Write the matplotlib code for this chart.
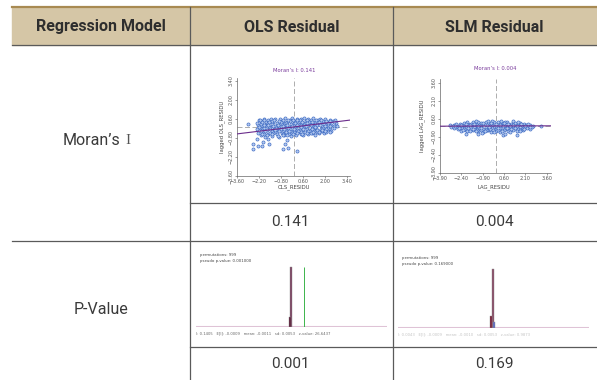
import matplotlib.pyplot as plt
from matplotlib.patches import Rectangle
import numpy as np

W, H = 597, 380

# table content
header = ["Regression Model", "OLS Residual", "SLM Residual"]
row_labels = ["Moran’s", "P-Value"]
moran_vals = ["0.141", "0.004"]
p_vals = ["0.001", "0.169"]

# Moran scatter (residual vs lagged residual)
ols_I = 0.141
slm_I = 0.004
ols_pts = [
    (-2.2, 0.55), (-2.05, 0.42), (-1.9, 0.6), (-1.75, 0.35), (-1.6, 0.52), (-1.45, 0.62), (-1.3, 0.4),
    (-1.15, 0.58), (-1.0, 0.33), (-0.85, 0.61), (-0.7, 0.47), (-0.55, 0.64), (-0.4, 0.38), (-0.25, 0.55),
    (-0.1, 0.63), (0.05, 0.44), (0.2, 0.6), (0.35, 0.36), (0.5, 0.57), (0.65, 0.65), (0.8, 0.42),
    (0.95, 0.59), (1.1, 0.5), (1.25, 0.63), (1.4, 0.37), (1.55, 0.55), (1.7, 0.61), (1.85, 0.45),
    (2.0, 0.58), (2.15, 0.4), (2.3, 0.52), (2.5, 0.47), (2.65, 0.55),
    (-2.25, 0.12), (-2.1, 0.25), (-1.95, 0.05), (-1.8, 0.18), (-1.65, 0.28), (-1.5, 0.02), (-1.35, 0.2),
    (-1.2, 0.1), (-1.05, 0.27), (-0.9, 0.06), (-0.75, 0.22), (-0.6, 0.14), (-0.45, 0.29), (-0.3, 0.03),
    (-0.15, 0.19), (0.0, 0.26), (0.15, 0.08), (0.3, 0.21), (0.45, 0.12), (0.6, 0.28), (0.75, 0.04),
    (0.9, 0.17), (1.05, 0.25), (1.2, 0.09), (1.35, 0.22), (1.5, 0.13), (1.65, 0.27), (1.8, 0.06),
    (1.95, 0.2), (2.1, 0.11), (2.25, 0.26), (2.4, 0.15), (2.6, 0.08),
    (-2.3, -0.15), (-2.15, -0.05), (-2.0, -0.25), (-1.85, -0.1), (-1.7, -0.2), (-1.55, -0.02),
    (-1.4, -0.28), (-1.25, -0.12), (-1.1, -0.22), (-0.95, -0.04), (-0.8, -0.18), (-0.65, -0.27),
    (-0.5, -0.08), (-0.35, -0.21), (-0.2, -0.13), (-0.05, -0.29), (0.1, -0.06), (0.25, -0.19),
    (0.4, -0.11), (0.55, -0.25), (0.7, -0.03), (0.85, -0.16), (1.0, -0.24), (1.15, -0.07), (1.3, -0.2),
    (1.45, -0.1), (1.6, -0.27), (1.75, -0.14), (1.9, -0.05), (2.05, -0.22), (2.2, -0.09), (2.35, -0.17),
    (2.55, -0.04),
    (-2.25, -0.45), (-2.1, -0.62), (-1.95, -0.38), (-1.8, -0.7), (-1.65, -0.5), (-1.5, -0.41),
    (-1.35, -0.66), (-1.2, -0.35), (-1.05, -0.55), (-0.9, -0.72), (-0.75, -0.43), (-0.6, -0.6),
    (-0.45, -0.36), (-0.3, -0.52), (-0.15, -0.68), (0.0, -0.4), (0.15, -0.57), (0.3, -0.34),
    (0.45, -0.48), (0.6, -0.62), (0.75, -0.38), (0.9, -0.51), (1.05, -0.33), (1.2, -0.45),
    (1.35, -0.56), (1.5, -0.35), (1.65, -0.47), (1.8, -0.32), (1.95, -0.42), (2.1, -0.36), (2.3, -0.33),
    (-2.0, 0.35), (-1.7, 0.05), (-1.4, 0.45), (-1.1, -0.1), (-0.8, 0.38), (-0.5, 0.18), (-0.2, 0.42),
    (0.1, 0.3), (0.4, 0.48), (0.7, 0.15), (1.0, 0.4), (1.3, -0.3), (1.6, 0.35), (1.9, -0.25),
    (2.2, 0.33), (-1.9, -0.5), (-1.3, -0.45), (-0.7, -0.5), (-0.1, -0.45), (0.5, -0.4), (1.1, -0.42),
    (-2.35, 0.3), (2.7, 0.3), (0.85, 0.52), (-0.35, -0.05),
    (-2.15, 0.48), (-1.85, 0.52), (-1.55, 0.4), (-1.25, 0.5), (-0.95, 0.45), (-0.65, 0.55), (-0.35, 0.5),
    (-0.05, 0.52), (0.25, 0.5), (0.55, 0.4), (0.85, 0.32), (1.15, 0.38), (1.45, 0.5), (1.75, 0.48),
    (2.05, 0.46), (2.35, 0.42), (2.6, 0.4),
    (-2.2, 0.0), (-1.9, 0.12), (-1.6, 0.15), (-1.3, 0.05), (-1.0, 0.12), (-0.7, 0.08), (-0.4, 0.12),
    (-0.1, 0.05), (0.2, 0.15), (0.5, 0.02), (0.8, 0.1), (1.1, 0.15), (1.4, 0.03), (1.7, 0.12),
    (2.0, 0.05), (2.3, 0.1),
    (-2.1, -0.32), (-1.8, -0.3), (-1.5, -0.15), (-1.2, -0.25), (-0.9, -0.3), (-0.6, -0.15), (-0.3, -0.32),
    (0.0, -0.18), (0.3, -0.28), (0.6, -0.12), (0.9, -0.28), (1.2, -0.15), (1.5, -0.22), (1.8, -0.2),
    (2.1, -0.15), (2.4, -0.3),
    (-2.0, -0.55), (-1.7, -0.6), (-1.4, -0.52), (-1.0, -0.65), (-0.7, -0.62), (-0.4, -0.6), (-0.05, -0.55),
    (0.25, -0.45), (0.55, -0.52), (0.85, -0.44), (1.25, -0.38), (1.6, -0.4), (2.0, -0.3),
]
ols_out = [
    (-2.9, 0.25), (-2.56, -1.22), (-2.56, -1.59), (-2.24, -1.41), (-2.03, -1.41), (-1.93, -1.09),
    (-1.54, -1.22), (-0.55, -1.22), (-0.65, -1.59), (-0.34, -1.51), (0.2, -1.74), (2.32, -0.36),
    (2.74, 0.08), (-2.3, -0.85), (-1.6, -0.9), (-0.4, -0.95),
]
slm_pts = [
    (-2.5, 0.18), (-2.2, 0.25), (-1.9, 0.2), (-1.6, 0.3), (-1.3, 0.17), (-1.0, 0.27), (-0.7, 0.33),
    (-0.4, 0.2), (-0.1, 0.3), (0.2, 0.36), (0.5, 0.22), (0.8, 0.31), (1.1, 0.19), (1.4, 0.28),
    (1.7, 0.21), (2.0, 0.16),
    (-3.2, 0.05), (-2.9, 0.1), (-2.6, 0.02), (-2.35, 0.12), (-2.05, 0.06), (-1.75, 0.13), (-1.45, 0.03),
    (-1.15, 0.1), (-0.85, 0.14), (-0.55, 0.04), (-0.25, 0.11), (0.05, 0.07), (0.35, 0.13), (0.65, 0.02),
    (0.95, 0.1), (1.25, 0.05), (1.55, 0.12), (1.85, 0.03), (2.15, 0.09), (2.45, 0.06), (2.62, 0.0),
    (-3.1, -0.08), (-2.8, -0.12), (-2.5, -0.05), (-2.2, -0.14), (-1.9, -0.03), (-1.6, -0.1),
    (-1.3, -0.15), (-1.0, -0.06), (-0.7, -0.12), (-0.4, -0.02), (-0.1, -0.09), (0.2, -0.14),
    (0.5, -0.04), (0.8, -0.11), (1.1, -0.07), (1.4, -0.13), (1.7, -0.05), (2.0, -0.1), (2.3, -0.03),
    (2.55, -0.12),
    (-2.95, -0.2), (-2.65, -0.27), (-2.35, -0.18), (-2.05, -0.3), (-1.75, -0.22), (-1.45, -0.28),
    (-1.15, -0.17), (-0.85, -0.25), (-0.55, -0.31), (-0.25, -0.2), (0.05, -0.27), (0.35, -0.19),
    (0.65, -0.29), (0.95, -0.23), (1.25, -0.18), (1.55, -0.26), (1.85, -0.21), (2.2, -0.17),
    (-2.4, -0.38), (-2.0, -0.45), (-1.6, -0.35), (-1.2, -0.42), (-0.9, -0.5), (-0.6, -0.37),
    (-0.3, -0.46), (0.0, -0.4), (0.3, -0.52), (0.6, -0.36), (0.9, -0.44), (1.2, -0.33), (1.5, -0.41),
    (1.9, -0.35),
    (-2.75, 0.15), (-2.0, 0.3), (-1.2, 0.35), (-0.25, 0.38), (0.65, 0.35), (1.55, 0.3), (2.3, 0.2),
    (-3.0, -0.02), (-1.5, -0.05), (0.0, 0.0), (1.0, -0.01), (-2.2, -0.25), (-0.4, -0.22), (1.0, -0.35),
    (-1.05, -0.33), (0.15, -0.35), (2.4, -0.25),
    (-2.85, 0.0), (-2.4, 0.05), (-2.1, 0.18), (-1.8, 0.05), (-1.5, 0.2), (-1.2, 0.02), (-0.9, 0.22),
    (-0.6, 0.12), (-0.3, 0.25), (0.0, 0.18), (0.3, 0.05), (0.6, 0.28), (0.9, 0.2), (1.2, 0.12),
    (1.5, 0.0), (1.8, 0.15), (2.1, 0.0), (2.4, -0.08),
    (-2.6, -0.18), (-2.3, -0.32), (-1.9, -0.15), (-1.6, -0.22), (-1.3, -0.3), (-1.0, -0.2), (-0.7, -0.3),
    (-0.45, -0.1), (-0.15, -0.35), (0.15, -0.2), (0.45, -0.3), (0.8, -0.18), (1.1, -0.28), (1.4, -0.2),
    (1.7, -0.3), (2.0, -0.25),
    (-1.8, -0.4), (-1.4, -0.45), (-0.75, -0.45), (-0.1, -0.5), (0.45, -0.45), (1.05, -0.48), (1.7, -0.4),
    (-1.4, 0.4), (-0.5, 0.45), (0.4, 0.42), (1.2, 0.4),
]
slm_out = [
    (3.17, 0.0), (-2.06, -0.65), (-1.26, -0.7), (0.5, -0.72), (0.69, -0.66), (1.49, -0.72),
    (-0.95, -0.6),
]

# permutation histograms (999 permutations)
ols_bin_x = [-0.001, -0.006]
ols_bin_h = [829, 140]
slm_bin_x = [-0.001, -0.019, 0.009]
slm_bin_h = [829, 170, 85]
ols_text = ["permutations: 999", "pseudo p-value: 0.001000"]
slm_text = ["permutations: 999", "pseudo p-value: 0.169000"]
ols_stats = "I: 0.1405   E[I]: -0.0009   mean: -0.0011   sd: 0.0053   z-value: 26.6437"
slm_stats = "I: 0.0043   E[I]: -0.0009   mean: -0.0010   sd: 0.0053   z-value: 0.9873"

FONT = ['Roboto', 'DejaVu Sans']


def box(l, t, r, b):
    return [l / W, 1 - b / H, (r - l) / W, (b - t) / H]


def ptext(x, y, s, **kw):
    kw.setdefault('ha', 'center')
    kw.setdefault('va', 'center')
    fig.text(x / W, 1 - y / H, s, **kw)


fig = plt.figure(figsize=(W / 100, H / 100), dpi=100)
bg = fig.add_axes([0, 0, 1, 1])
bg.set_xlim(0, W)
bg.set_ylim(H, 0)
bg.axis('off')

# header band
bg.add_patch(Rectangle((12, 7), W - 12, 38, color='#d5c6a6', zorder=0))
bg.plot([12, W], [6.5, 6.5], color='#a88a52', lw=1.6)
line_kw = dict(color='#5a5a5a', lw=0.9)
bg.plot([12, W], [45, 45], **line_kw)
bg.plot([12, W], [241, 241], **line_kw)
bg.plot([190, W], [203, 203], **line_kw)
bg.plot([190, W], [347, 347], **line_kw)
bg.plot([190, 190], [7, H], **line_kw)
bg.plot([393, 393], [7, H], **line_kw)

for cx, s in zip([101, 292, 494], header):
    ptext(cx, 27, s, fontsize=11.5, weight='bold', color='#2e2e2e', family=FONT)

ptext(63, 141, row_labels[0], ha='left', fontsize=11.5, color='#3a3a3a', family=FONT)
ptext(128, 141, "I", fontsize=11, color='#555555', family=['Liberation Serif', 'DejaVu Serif'])
ptext(101, 310, row_labels[1], fontsize=11.5, color='#3a3a3a', family=FONT)
for cx, s in zip([290, 494], moran_vals):
    ptext(cx, 222, s, fontsize=11, color='#3a3a3a', family=FONT)
for cx, s in zip([290, 494], p_vals):
    ptext(cx, 364, s, fontsize=11, color='#3a3a3a', family=FONT)


def moran_plot(rect, pts, out, I, lim, ticks, xlab, ylab, xlab_pos, ylab_pos, title_pos):
    ax = fig.add_axes(box(*rect))
    x, y = np.array(pts + out).T
    ax.axvline(0, color='#a0a0a0', lw=0.6, ls=(0, (6, 3)), zorder=1)
    ax.axhline(0, color='#a0a0a0', lw=0.6, ls=(0, (6, 3)), zorder=1)
    ax.scatter(x, y, s=5, facecolors='#b4c9ef', edgecolors='#3a68c2', linewidths=0.45, zorder=2)
    xx = np.array(lim)
    ax.plot(xx, I * xx, color='#6b2d8c', lw=0.8, zorder=3)
    ax.set_xlim(lim)
    ax.set_ylim(lim)
    ax.set_xticks(ticks)
    ax.set_yticks(ticks)
    labs = [f"{t:.2f}".replace('-', '\u2212') for t in ticks]
    ax.set_xticklabels(labs)
    ax.set_yticklabels(labs, rotation=90, va='center')
    ax.tick_params(labelsize=3.5, length=1.5, width=0.4, pad=0.8, colors='#555555')
    for sp in ['top', 'right']:
        ax.spines[sp].set_visible(False)
    for sp in ['left', 'bottom']:
        ax.spines[sp].set_color('#666666')
        ax.spines[sp].set_linewidth(0.5)
    ax.patch.set_alpha(0)
    ptext(*title_pos, f"Moran’s I: {I:.3f}", fontsize=3.8, color='#7a3c9c')
    ptext(*xlab_pos, xlab, fontsize=3.8, color='#444444')
    ptext(*ylab_pos, ylab, fontsize=3.8, color='#444444', rotation=90)


moran_plot((237, 78, 350, 176), ols_pts, ols_out, ols_I, (-3.6, 3.6),
           [-3.6, -2.2, -0.8, 0.6, 2.0, 3.4], "OLS_RESIDU", "lagged OLS_RESIDU",
           (294, 187), (222, 127), (294, 70.5))
moran_plot((440, 79, 551, 173), slm_pts, slm_out, slm_I, (-3.9, 3.9),
           [-3.9, -2.4, -0.9, 0.6, 2.1, 3.6], "LAG_RESIDU", "lagged LAG_RESIDU",
           (494, 187), (422, 126), (495, 69))


def perm_plot(rect, bx, bh, colors, I, lines, stats, stats_color, txt_x, txt_y, show_I):
    ax = fig.add_axes(box(*rect))
    ax.axhline(0, color='#dfc3d6', lw=1.5, zorder=1)
    ax.bar(bx, bh, width=0.022, color=colors, edgecolor='#8c8c8c', linewidth=0.3, zorder=2)
    if show_I:
        ax.vlines(I, 0, max(bh), color='#3cb44b', lw=0.7, zorder=3)
    ax.set_xlim(-1.03, 1.04)
    ax.set_ylim(0, max(bh) * 1.28)
    ax.axis('off')
    for i, s in enumerate(lines):
        ptext(txt_x, txt_y + i * 6, s, ha='left', fontsize=2.8, color='#444444')
    ptext(rect[0], rect[3] + 6.5, stats, ha='left', fontsize=2.7, color=stats_color)


perm_plot((196, 250, 387, 327), ols_bin_x, ols_bin_h, ['#7d4262', '#5a1836'], ols_I,
          ols_text, ols_stats, '#666666', 200, 255, True)
perm_plot((398, 252, 589, 328.3), slm_bin_x, slm_bin_h, ['#8a4a66', '#7a1a34', '#5a6ac8'], slm_I,
          slm_text, slm_stats, '#c4c4c4', 402, 257.7, False)

fig.savefig("out.png", dpi=100)
